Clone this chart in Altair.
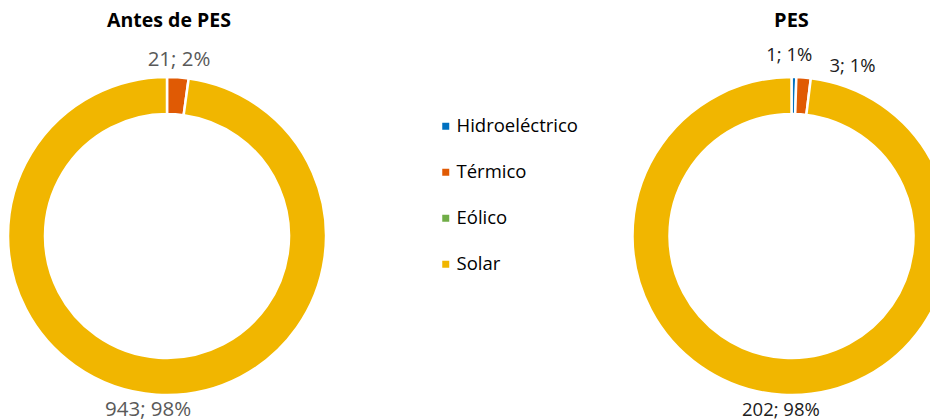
import altair as alt
import pandas as pd

categories = ["Hidroeléctrico", "Térmico", "Eólico", "Solar"]
colors = ["#0070C0", "#E05A04", "#70AD47", "#F1B600"]

antes_values = [0, 21, 0, 943]
antes_pct = ["0%", "2%", "0%", "98%"]
pes_values = [1, 3, 0, 202]
pes_pct = ["1%", "1%", "0%", "98%"]

titles = ["Antes de PES", "PES"]

FONT = "Open Sans"


def frame(values, pcts):
    df = pd.DataFrame({
        "cat": categories,
        "idx": list(range(len(categories))),
        "value": values,
        "pct": pcts,
    })
    df["label"] = [f"{v}; {p}" for v, p in zip(df["value"], df["pct"])]
    return df[df["value"] > 0].reset_index(drop=True)


antes = frame(antes_values, antes_pct)
pes = frame(pes_values, pes_pct)

color_scale = alt.Scale(domain=categories, range=colors)

L_CX, R_CX, CY = 159, 783.5, 228
R_OUT, R_IN = 159, 122


def donut(df, cx, legend):
    enc = dict(
        theta=alt.Theta("value:Q", stack=True),
        order=alt.Order("idx:Q"),
        x=alt.value(cx),
        y=alt.value(CY),
    )
    col = alt.Color(
        "cat:N",
        scale=color_scale,
        legend=alt.Legend(
            title=None,
            orient="none",
            legendX=428.5,
            legendY=109,
            symbolType="square",
            symbolSize=49,
            symbolStrokeWidth=0,
            labelFont=FONT,
            labelFontSize=18.5,
            labelColor="#000000",
            labelOffset=1.5,
            rowPadding=27,
            values=categories,
        ) if legend else None,
    )
    return alt.Chart(df).mark_arc(
        innerRadius=R_IN, outerRadius=R_OUT, stroke="white", strokeWidth=2.5
    ).encode(color=col, **enc)


def labels(df, cx, cat, radius, dx, dy, color, size):
    return alt.Chart(df).mark_text(
        radius=radius, font=FONT, fontSize=size, color=color, dx=dx, dy=dy
    ).encode(
        theta=alt.Theta("value:Q", stack=True),
        order=alt.Order("idx:Q"),
        x=alt.value(cx),
        y=alt.value(CY),
        text=alt.condition(alt.datum.cat == cat, "label:N", alt.value("")),
    )


title_df = pd.DataFrame({"t": titles, "pos": [0, 1]})


def title(i, cx, size):
    return alt.Chart(title_df).transform_filter(alt.datum.pos == i).mark_text(
        font=FONT, fontSize=size, fontWeight="bold", color="#000000"
    ).encode(x=alt.value(cx), y=alt.value(12.5), text="t:N")


layers = [
    donut(antes, L_CX, True),
    labels(antes, L_CX, "Térmico", 176, 0, 0, "#595959", 20.5),
    labels(antes, L_CX, "Solar", 174, -7, 0, "#595959", 20.5),
    donut(pes, R_CX, False),
    labels(pes, R_CX, "Hidroeléctrico", 181, -5, 0, "#202020", 18.5),
    labels(pes, R_CX, "Térmico", 170, 48, 0, "#202020", 18.5),
    labels(pes, R_CX, "Solar", 174, 0, 0, "#202020", 18.5),
    title(0, L_CX + 2, 19.5),
    title(1, R_CX, 20),
]

chart = alt.layer(*layers).resolve_scale(theta="independent").properties(
    width=922,
    height=411,
    padding=0,
    autosize=alt.AutoSizeParams(type="none"),
).configure_view(stroke=None)

chart.save("out.html", embed_options={"renderer": "svg", "actions": False})
